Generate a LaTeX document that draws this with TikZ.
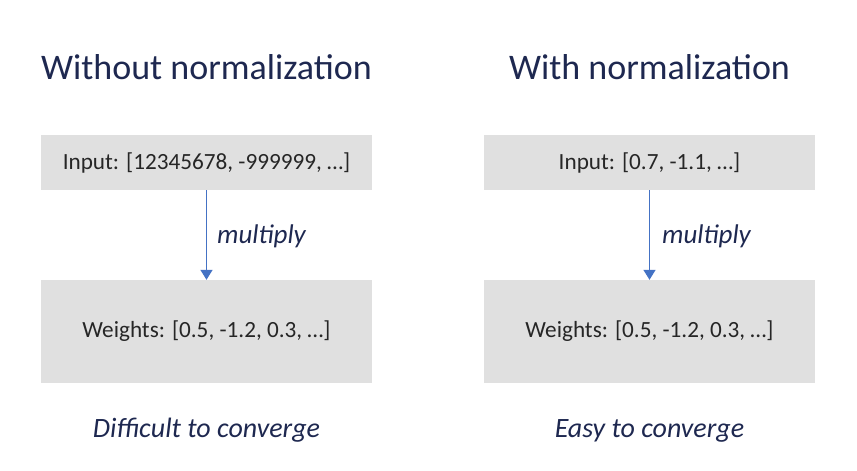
\documentclass[tikz,border=0pt]{standalone}
\usepackage{fontspec}
\setmainfont{Carlito}
\usetikzlibrary{arrows.meta}
\definecolor{navy}{RGB}{30,40,80}
\definecolor{boxgrey}{RGB}{224,224,224}
\definecolor{boxtext}{RGB}{38,38,38}
\definecolor{arrowblue}{RGB}{68,114,196}
\tikzset{
  titletext/.style={anchor=base, text=navy, inner sep=0pt, font=\fontsize{36}{40}\selectfont},
  greybox/.style={fill=boxgrey, draw=none, minimum width=331pt, inner sep=0pt, text=boxtext, font=\fontsize{23.2}{27}\selectfont},
  labeltext/.style={text=navy, inner sep=0pt, font=\fontsize{27}{31}\selectfont\itshape},
  caption/.style={anchor=base, text=navy, inner sep=0pt, font=\fontsize{28}{32}\selectfont\itshape},
  flow/.style={draw=arrowblue, line width=1.5pt, -{Triangle[width=12pt,length=10pt]}}
}
\begin{document}
\begin{tikzpicture}[x=1pt,y=-1pt]
\useasboundingbox (0,0) rectangle (857,471);
% left column
\node[titletext] (t1) at (206.5,79) {Without normalization};
\node[greybox, minimum height=55pt] (in1) at (206.5,162.5) {Input: [12345678, -999999, …]};
\node[greybox, minimum height=103pt] (w1) at (206.5,331.5) {Weights: [0.5, -1.2, 0.3, …]};
\draw[flow] (in1.south) -- (w1.north);
\node[labeltext, anchor=base west] (m1) at (217,243) {multiply};
\node[caption] (c1) at (206.5,437) {Difficult to converge};
% right column
\node[titletext] (t2) at (649.5,79) {With normalization};
\node[greybox, minimum height=55pt] (in2) at (649.5,162.5) {Input: [0.7, -1.1, …]};
\node[greybox, minimum height=103pt] (w2) at (649.5,331.5) {Weights: [0.5, -1.2, 0.3, …]};
\draw[flow] (in2.south) -- (w2.north);
\node[labeltext, anchor=base west] (m2) at (662,243) {multiply};
\node[caption] (c2) at (649.5,437) {Easy to converge};
\end{tikzpicture}
\end{document}
